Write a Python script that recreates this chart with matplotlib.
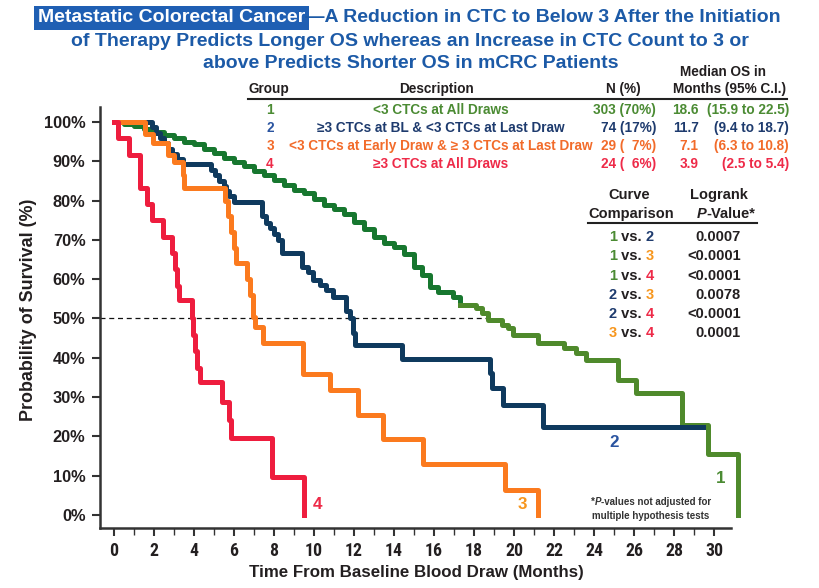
import matplotlib
matplotlib.use("Agg")
import matplotlib.pyplot as plt
from matplotlib import font_manager
from matplotlib.lines import Line2D

W, H = 820, 588

# ---------------- data ----------------
group1_t = [0, 0.5, 1.0, 1.5, 2.0, 2.5, 3.0, 3.5, 4.0, 4.5, 5.0, 5.5, 6.0, 6.5, 7.0, 7.5,
            8.0, 8.5, 9.0, 9.5, 10.0, 10.5, 11.0, 11.5, 12.0, 12.5, 13.0, 13.5, 14.0, 14.5,
            15.0, 15.4, 15.8, 16.2, 16.97, 17.3, 18.1, 18.4, 18.7, 19.4, 19.7, 19.97, 21.2,
            22.5, 23.1, 23.6, 25.2, 26.1, 28.4, 29.7, 31.2]
group1_s = [100, 99.5, 99.0, 98.3, 97.5, 96.7, 95.8, 95.0, 94.3, 93.2, 92.0, 90.8, 89.9, 88.8,
            87.6, 86.4, 85.3, 84.0, 82.8, 81.8, 80.3, 78.9, 77.8, 76.5, 74.6, 72.8, 70.8, 69.3,
            68.2, 66.5, 63.2, 61.0, 58.1, 56.8, 55.5, 53.4, 52.6, 51.3, 49.6, 48.3, 47.5, 45.8,
            43.7, 42.4, 41.2, 39.4, 34.3, 31.1, 22.9, 15.5, 0]

group2_t = [0, 1.9, 2.1, 2.3, 2.5, 2.7, 2.9, 3.15, 3.45, 4.85, 5.05, 5.25, 5.5, 5.6, 5.75, 6.0,
            7.4, 7.6, 7.8, 8.0, 8.2, 8.4, 9.4, 9.7, 9.95, 10.3, 10.6, 10.95, 11.6, 11.8, 11.95,
            12.05, 14.4, 18.8, 18.9, 19.45, 21.45, 29.45]
group2_s = [100, 98.6, 97.3, 95.9, 94.6, 93.2, 91.9, 90.5, 89.2, 87.8, 86.5, 85.1, 83.8, 82.4,
            81.1, 79.7, 76.0, 74.3, 73.0, 71.6, 70.0, 66.6, 63.2, 61.8, 59.8, 58.5, 57.2, 55.5,
            52.0, 50.0, 46.3, 43.2, 39.6, 36.1, 32.3, 28.0, 22.5, 22.5]

group3_t = [0, 1.55, 1.95, 2.7, 3.0, 3.45, 3.5, 5.55, 5.7, 5.85, 6.0, 6.1, 6.63, 6.8, 6.97,
            7.05, 7.45, 9.45, 10.8, 12.2, 13.45, 15.45, 19.55, 21.2]
group3_s = [100, 97.0, 94.6, 91.5, 89.8, 86.5, 83.2, 79.8, 76.0, 72.0, 68.0, 64.0, 60.0, 56.0,
            50.4, 47.9, 43.7, 36.0, 31.8, 25.4, 19.3, 13.0, 6.4, 0]

group4_t = [0, 0.2, 0.75, 1.3, 1.65, 1.9, 2.45, 2.9, 3.05, 3.15, 3.25, 3.9, 3.95, 4.05, 4.15,
            4.3, 5.4, 5.75, 5.85, 7.9, 9.5]
group4_s = [100, 95.8, 91.7, 83.3, 79.2, 75.0, 70.8, 66.7, 62.5, 58.3, 54.7, 50.0, 45.8, 41.7,
            37.5, 33.8, 28.8, 24.2, 19.6, 9.7, 0]

x_ticks = list(range(0, 31, 2))
x_minor = list(range(1, 31, 2))
y_ticks = list(range(0, 101, 10))

groups = ["1", "2", "3", "4"]
descriptions = ["<3 CTCs at All Draws",
                "≥3 CTCs at BL & <3 CTCs at Last Draw",
                "<3 CTCs at Early Draw & ≥ 3 CTCs at Last Draw",
                "≥3 CTCs at All Draws"]
n_pct = ["303 (70%)", "74 (17%)", "29 (  7%)", "24 (  6%)"]
median_os = [18.6, 11.7, 7.1, 3.9]
median_ci = ["(15.9 to 22.5)", "(9.4 to 18.7)", "(6.3 to 10.8)", "(2.5 to 5.4)"]

comparisons = [("1", "2"), ("1", "3"), ("1", "4"), ("2", "3"), ("2", "4"), ("3", "4")]
p_values = ["0.0007", "<0.0001", "<0.0001", "0.0078", "<0.0001", "0.0001"]

title_box = "Metastatic Colorectal Cancer"
title_l1 = "\u2014A Reduction in CTC to Below 3 After the Initiation"
title_l2 = "of Therapy Predicts Longer OS whereas an Increase in CTC Count to 3 or"
title_l3 = "above Predicts Shorter OS in mCRC Patients"

# ---------------- styling ----------------
avail = {f.name for f in font_manager.fontManager.ttflist}
NARROW = next((n for n in ["Liberation Sans Narrow", "Roboto Condensed", "Open Sans Condensed",
                           "DejaVu Sans Condensed"] if n in avail), "Liberation Sans")
SANS = "Liberation Sans" if "Liberation Sans" in avail else "DejaVu Sans"
plt.rcParams["font.family"] = [SANS, "DejaVu Sans"]

GREEN_D = "#17772f"
GREEN_L = "#4f8a2c"
NAVY = "#0f3a5e"
ORANGE = "#fb7a1e"
RED = "#ee1d3e"
TXT_GREEN = "#4b8b33"
TXT_NAVY = "#1e3b6e"
TXT_BLUE = "#2a54a0"
TXT_ORANGE = "#f26b2a"
TXT_YELLOW = "#f7961d"
TXT_RED = "#ee2a48"
DARK = "#231f20"
TITLE_BLUE = "#1c5aa7"

fig = plt.figure(figsize=(W / 100, H / 100), dpi=100)
fig.patch.set_facecolor("white")
r = fig.canvas.get_renderer()


def fx(x):
    return x / W


def fy(y):
    return 1 - y / H


def text_width(s, size, family, weight="bold", style="normal"):
    t = fig.text(0, 0, s, fontsize=size, family=[family, "DejaVu Sans"], fontweight=weight,
                 fontstyle=style)
    w = t.get_window_extent(r).width
    t.remove()
    return w


def fit_size(s, target, family, weight="bold"):
    return 10 * target / text_width(s, 10, family, weight)


def put(x, y, s, size, family, color=DARK, ha="center", weight="bold", **kw):
    return fig.text(fx(x), fy(y), s, fontsize=size, family=[family, "DejaVu Sans"],
                    fontweight=weight, color=color, ha=ha, va="center", **kw)


def multi(x, y, parts, size, family, ha="left", weight="bold"):
    full = "".join(p[0] for p in parts)
    total = text_width(full, size, family, weight)
    start = x - total / 2 if ha == "center" else (x - total if ha == "right" else x)
    for k, p in enumerate(parts):
        s, c = p[0], p[1]
        extra = p[2] if len(p) > 2 else {}
        prefix = "".join(q[0] for q in parts[:k + 1])
        left = start + text_width(prefix, size, family, weight) - text_width(s, size, family, weight)
        fig.text(fx(left), fy(y), s, fontsize=size, family=[family, "DejaVu Sans"],
                 fontweight=weight, color=c, ha="left", va="center", **extra)


# ---------------- axes ----------------
ax = fig.add_axes([fx(100), fy(528), (746 - 100) / W, (528 - 107) / H])
ax.set_xlim(-0.7, 31.6)
ax.set_ylim(-3.3, 103.8)
ax.set_facecolor("none")
for s in ["top", "right"]:
    ax.spines[s].set_visible(False)
for s in ["left", "bottom"]:
    ax.spines[s].set_linewidth(1.8)
    ax.spines[s].set_color("#333333")
ax.spines["bottom"].set_bounds(-0.7, 30.85)

split = next(i for i, t in enumerate(group1_t) if t >= 17.0)
ax.plot(group1_t[:split + 1], group1_s[:split + 1], drawstyle="steps-post", color=GREEN_D,
        lw=3.6, zorder=2)
ax.plot(group1_t[split:], group1_s[split:], drawstyle="steps-post", color=GREEN_L, lw=3.6,
        zorder=2)
ax.plot(group2_t, group2_s, drawstyle="steps-post", color=NAVY, lw=3.6, zorder=3)
ax.plot(group3_t, group3_s, drawstyle="steps-post", color=ORANGE, lw=3.6, zorder=4)
ax.plot(group4_t, group4_s, drawstyle="steps-post", color=RED, lw=3.6, zorder=5)

ax.hlines(50, -0.7, median_os[0], colors="#111111", linestyles=(0, (4, 3)), lw=0.9, zorder=1)

lab_size = fit_size("4", 9.5, SANS)
ax.text(group4_t[-1] + 0.45, 2.6, groups[3], color=TXT_RED, fontsize=lab_size,
        fontweight="bold", ha="left", va="center")
ax.text(group3_t[-1] - 0.8, 2.8, groups[2], color=TXT_YELLOW, fontsize=lab_size,
        fontweight="bold", ha="center", va="center")
ax.text(25.0, 18.4, groups[1], color=TXT_BLUE, fontsize=lab_size, fontweight="bold",
        ha="center", va="center")
ax.text(group1_t[-1] - 0.85, 9.4, groups[0], color=TXT_GREEN, fontsize=lab_size,
        fontweight="bold", ha="center", va="center")

ax.set_xticks(x_ticks)
ax.set_xticks(x_minor, minor=True)
ax.set_xticklabels([str(v) for v in x_ticks])
ax.set_yticks(y_ticks)
ax.set_yticklabels([f"{v}%" for v in y_ticks])
ax.tick_params(axis="both", which="major", direction="out", length=6, width=1.5,
               color="#333333", labelcolor=DARK)
ax.tick_params(axis="x", which="minor", direction="out", length=5, width=1.0, color="#333333")
ax.tick_params(axis="y", pad=4.5)
ax.tick_params(axis="x", pad=4)
ytick_size = fit_size("100%", 42, SANS)
xtick_size = fit_size("10", 18, NARROW)
for lab in ax.get_yticklabels():
    lab.set_fontsize(ytick_size)
    lab.set_fontweight("bold")
    lab.set_family([SANS, "DejaVu Sans"])
for lab in ax.get_xticklabels():
    lab.set_fontsize(xtick_size)
    lab.set_fontweight("bold")
    lab.set_family([NARROW, "DejaVu Sans"])

# axis titles
xl_size = fit_size("Time From Baseline Blood Draw (Months)", 335, SANS)
put(416.5, 572, "Time From Baseline Blood Draw (Months)", xl_size, SANS)
yl_size = fit_size("Probability of Survival (%)", 222, SANS)
put(29, 310, "Probability of Survival (%)", yl_size, SANS, rotation=90)

# ---------------- title ----------------
t_size = fit_size(title_box + title_l1, 742, SANS)
multi(409.5, 18, [(title_box, "white",
                   {"bbox": dict(boxstyle="square,pad=0.2", fc="#1f5fb3", ec="none")}),
                  (title_l1, TITLE_BLUE)], t_size, SANS, ha="center")
put(410, 41.5, title_l2, t_size, SANS, color=TITLE_BLUE)
put(411, 64, title_l3, t_size, SANS, color=TITLE_BLUE)

# ---------------- group table ----------------
tb_size = fit_size(descriptions[2], 304, SANS)
put(268.5, 89, "Group", tb_size, SANS)
put(437, 89, "Description", tb_size, SANS)
put(623, 89, "N (%)", tb_size, SANS)
put(723, 72, "Median OS in", tb_size, SANS)
put(730, 89, "Months (95% C.I.)", tb_size, SANS)
fig.add_artist(Line2D([fx(248), fx(787)], [fy(99), fy(99)], color="#222222", lw=1.5))

row_y = [110, 128.3, 146, 164]
row_col = [TXT_GREEN, TXT_NAVY, TXT_ORANGE, TXT_RED]
num_col = [TXT_GREEN, TXT_BLUE, TXT_ORANGE, TXT_RED]
for i in range(4):
    y = row_y[i]
    put(270, y, groups[i], tb_size, SANS, color=num_col[i])
    put(441, y, descriptions[i], tb_size, SANS, color=row_col[i])
    put(656, y, n_pct[i], tb_size, SANS, color=row_col[i], ha="right")
    put(698.6, y, f"{median_os[i]:.1f}", tb_size, SANS, color=row_col[i], ha="right")
    put(789, y, median_ci[i], tb_size, SANS, color=row_col[i], ha="right")

# ---------------- comparison table ----------------
cp_size = fit_size("Comparison", 85, SANS)
put(629.5, 195, "Curve", cp_size, SANS)
put(631, 214, "Comparison", cp_size, SANS)
put(718.5, 195, "Logrank", cp_size, SANS)
multi(726, 214, [("P", DARK, {"fontstyle": "italic"}), ("-Value*", DARK)], cp_size, SANS,
      ha="center")
fig.add_artist(Line2D([fx(588), fx(757)], [fy(223.5), fy(223.5)], color="#222222", lw=1.5))

gcol = {"1": TXT_GREEN, "2": TXT_NAVY, "3": TXT_YELLOW, "4": TXT_RED}
comp_y = [236.7, 256, 275.7, 295, 314.3, 333.3]
for (a, b), p, y in zip(comparisons, p_values, comp_y):
    multi(609, y, [(a, gcol[a]), (" vs. ", DARK), (b, gcol[b])], cp_size, SANS)
    put(740.7, y, p, cp_size, SANS, ha="right")

# ---------------- footnote ----------------
fn_size = fit_size("multiple hypothesis tests", 118, SANS)
multi(651, 502, [("*", "#333333"), ("P", "#333333", {"fontstyle": "italic"}),
                 ("-values not adjusted for", "#333333")], fn_size, SANS, ha="center")
put(651, 515.7, "multiple hypothesis tests", fn_size, SANS, color="#333333")

fig.savefig("out.png", dpi=100, facecolor=fig.get_facecolor())
